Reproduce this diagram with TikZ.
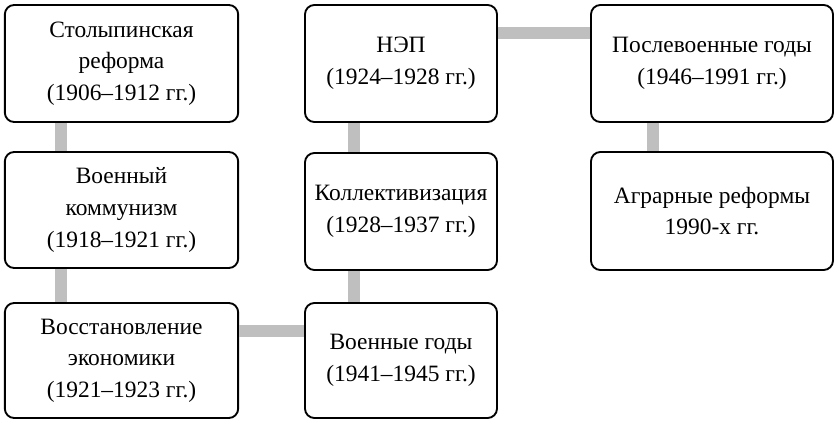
\documentclass[tikz,border=0pt]{standalone}
\usepackage{fontspec}
\setmainfont{Liberation Serif}
\begin{document}
\begin{tikzpicture}[x=0.03cm,y=-0.03cm]
\tikzset{era/.style={draw, line width=1.6pt, rounded corners=8pt, align=center, font=\fontsize{20}{27}\selectfont, inner sep=0pt},
link/.style={line width=11pt, gray!50}}
\useasboundingbox (0,0) rectangle (838,424);

% first column
\node[era, minimum width=7.0cm, minimum height=3.51cm] (stol) at (121.5,63.5) {Столыпинская\\реформа\\(1906–1912 гг.)};
\node[era, minimum width=7.0cm, minimum height=3.48cm] (komm) at (121.5,210) {Военный\\коммунизм\\(1918–1921 гг.)};
\node[era, minimum width=7.0cm, minimum height=3.45cm] (vosst) at (121.5,360.5) {Восстановление\\экономики\\(1921–1923 гг.)};

% second column
\node[era, minimum width=5.76cm, minimum height=3.51cm] (nep) at (401,63.5) {НЭП\\(1924–1928 гг.)};
\node[era, minimum width=5.76cm, minimum height=3.51cm] (koll) at (401,211.5) {Коллективизация\\(1928–1937 гг.)};
\node[era, minimum width=5.76cm, minimum height=3.45cm] (voen) at (401,360.5) {Военные годы\\(1941–1945 гг.)};

% third column
\node[era, minimum width=7.26cm, minimum height=3.51cm] (posl) at (712,63.5) {Послевоенные годы\\(1946–1991 гг.)};
\node[era, minimum width=7.26cm, minimum height=3.54cm] (agr) at (712,211) {Аграрные реформы\\1990-х гг.};

% links
\coordinate (xa) at (61,0);
\coordinate (xb) at (354,0);
\coordinate (xc) at (653,0);
\coordinate (ya) at (0,331);
\coordinate (yb) at (0,33);
\draw[link] (stol.south -| xa) -- (komm.north -| xa);
\draw[link] (komm.south -| xa) -- (vosst.north -| xa);
\draw[link] (vosst.east |- ya) -- (voen.west |- ya);
\draw[link] (voen.north -| xb) -- (koll.south -| xb);
\draw[link] (koll.north -| xb) -- (nep.south -| xb);
\draw[link] (nep.east |- yb) -- (posl.west |- yb);
\draw[link] (posl.south -| xc) -- (agr.north -| xc);
\end{tikzpicture}
\end{document}
